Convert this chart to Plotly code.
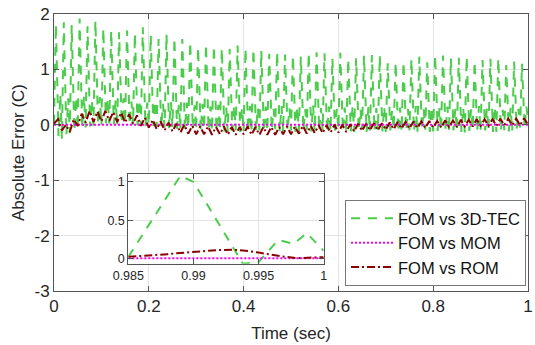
import numpy as np
import plotly.graph_objects as go

# ---------------- data ----------------
n_cycles = 60  # oscillation cycles over 0..1 s

# FOM vs 3D-TEC : per cycle a trough, big peak, trough, small bump
tec_low1 = [0.02, -0.25, -0.15, -0.08, -0.05, -0.02, 0.00, 0.02, 0.00, 0.03,
            0.00, -0.02, 0.00, -0.03, -0.05, -0.04, -0.08, -0.06, -0.10, -0.08,
            -0.12, -0.10, -0.13, -0.10, -0.12, -0.14, -0.10, -0.12, -0.08, -0.13,
            -0.10, -0.12, -0.09, -0.13, -0.10, -0.12, -0.08, -0.11, -0.13, -0.09,
            -0.12, -0.10, -0.13, -0.08, -0.12, -0.10, -0.14, -0.09, -0.12, -0.10,
            -0.13, -0.11, -0.14, -0.09, -0.12, -0.10, -0.13, -0.10, -0.12, -0.05,
            0.10]
tec_peak = [1.82, 1.85, 1.80, 1.92, 1.78, 1.88, 1.74, 1.70, 1.67, 1.70,
            1.65, 1.76, 1.62, 1.55, 1.64, 1.57, 1.55, 1.50, 1.40, 1.46,
            1.43, 1.38, 1.37, 1.43, 1.38, 1.37, 1.34, 1.28, 1.32, 1.27,
            1.25, 1.23, 1.30, 1.31, 1.29, 1.20, 1.30, 1.19, 1.20, 1.25,
            1.26, 1.25, 1.11, 1.13, 1.14, 1.19, 1.23, 1.13, 1.26, 1.25,
            1.20, 1.21, 1.23, 1.15, 1.17, 1.19, 1.20, 1.08, 1.14, 1.10]
tec_low2 = [-0.20, -0.18, -0.12, -0.06, -0.03, 0.00, 0.03, 0.01, 0.02, 0.00,
            -0.01, -0.03, -0.02, -0.05, -0.06, -0.07, -0.09, -0.08, -0.11, -0.10,
            -0.11, -0.12, -0.11, -0.13, -0.12, -0.11, -0.13, -0.10, -0.12, -0.11,
            -0.13, -0.10, -0.12, -0.11, -0.13, -0.10, -0.12, -0.12, -0.10, -0.13,
            -0.11, -0.12, -0.10, -0.13, -0.11, -0.12, -0.10, -0.13, -0.11, -0.12,
            -0.10, -0.13, -0.11, -0.12, -0.10, -0.13, -0.11, -0.12, -0.07, -0.05]
tec_bump = [0.55, 0.48, 0.50, 0.52, 0.45, 0.50, 0.47, 0.44, 0.48, 0.42,
            0.45, 0.40, 0.43, 0.38, 0.41, 0.36, 0.40, 0.35, 0.38, 0.33,
            0.36, 0.32, 0.35, 0.30, 0.34, 0.31, 0.33, 0.29, 0.34, 0.30,
            0.32, 0.28, 0.35, 0.30, 0.33, 0.29, 0.31, 0.34, 0.28, 0.32,
            0.30, 0.33, 0.27, 0.31, 0.29, 0.34, 0.28, 0.32, 0.30, 0.33,
            0.29, 0.31, 0.28, 0.34, 0.30, 0.32, 0.27, 0.31, 0.29, 0.33]

# FOM vs ROM : per cycle a trough and a peak
rom_low = [0.02, -0.10, -0.13, -0.02, 0.04, 0.05, 0.06, 0.07, 0.05, 0.04,
           0.02, -0.02, -0.05, -0.08, -0.10, -0.12, -0.14, -0.16, -0.17, -0.17,
           -0.18, -0.17, -0.18, -0.18, -0.17, -0.18, -0.18, -0.18, -0.18, -0.17,
           -0.17, -0.16, -0.16, -0.15, -0.15, -0.14, -0.14, -0.13, -0.12, -0.11,
           -0.10, -0.10, -0.09, -0.08, -0.07, -0.07, -0.06, -0.06, -0.05, -0.05,
           -0.04, -0.04, -0.03, -0.03, -0.02, -0.02, -0.02, -0.01, -0.01, -0.01,
           0.00]
rom_peak = [0.10, 0.00, 0.10, 0.20, 0.25, 0.24, 0.25, 0.23, 0.22, 0.19,
            0.17, 0.13, 0.09, 0.06, 0.04, 0.02, 0.00, -0.02, -0.03, -0.03,
            -0.04, -0.03, -0.04, -0.04, -0.03, -0.04, -0.04, -0.04, -0.04, -0.03,
            -0.03, -0.02, -0.02, -0.01, -0.01, 0.00, 0.00, 0.01, 0.02, 0.02,
            0.03, 0.03, 0.04, 0.05, 0.05, 0.06, 0.06, 0.07, 0.07, 0.08,
            0.08, 0.09, 0.09, 0.10, 0.10, 0.10, 0.11, 0.11, 0.11, 0.12]

# FOM vs MOM : essentially zero
mom_t = [0.0, 0.2, 0.4, 0.6, 0.8, 1.0]
mom_v = [0.0, 0.0, 0.0, 0.0, 0.0, 0.0]

# Inset (zoom on 0.985 .. 1 s)
ins_tec_t = [0.985, 0.989, 0.990, 0.9938, 0.995, 0.9965, 0.9977, 0.9987, 1.0]
ins_tec_v = [0.02, 1.08, 1.00, -0.07, -0.05, 0.24, 0.19, 0.33, 0.10]
ins_rom_t = [0.985, 0.986, 0.987, 0.988, 0.989, 0.990, 0.991, 0.992, 0.993,
             0.994, 0.995, 0.996, 0.997, 0.998, 0.999, 1.0]
ins_rom_v = [0.02, 0.03, 0.04, 0.055, 0.07, 0.085, 0.10, 0.11, 0.112,
             0.10, 0.075, 0.045, 0.02, 0.003, 0.005, 0.015]
ins_mom_t = [0.985, 1.0]
ins_mom_v = [0.0, 0.0]

main_xticks = [0, 0.2, 0.4, 0.6, 0.8, 1]
main_xlabels = ['0', '0.2', '0.4', '0.6', '0.8', '1']
main_yticks = [-3, -2, -1, 0, 1, 2]
main_ylabels = ['-3', '-2', '-1', '0', '1', '2']
ins_xticks = [0.985, 0.99, 0.995, 1.0]
ins_xlabels = ['0.985', '0.99', '0.995', '1']
ins_yticks = [0, 0.5, 1]
ins_ylabels = ['0', '0.5', '1']
names = ['FOM vs 3D-TEC', 'FOM vs MOM', 'FOM vs ROM']

# ---------------- assemble sample sequences ----------------
c = np.arange(n_cycles)
T = 1.0 / n_cycles
tec_t, tec_v = [], []
for i in c:
    tec_t += [i * T, (i + 0.24) * T, (i + 0.57) * T, (i + 0.8) * T]
    tec_v += [tec_low1[i], tec_peak[i], tec_low2[i], tec_bump[i]]
tec_t.append(1.0)
tec_v.append(tec_low1[-1])

rom_t, rom_v = [], []
for i in c:
    rom_t += [i * T, (i + 0.5) * T]
    rom_v += [rom_low[i], rom_peak[i]]
rom_t.append(1.0)
rom_v.append(rom_low[-1])

GREEN = '#4ccc4c'
MAG = '#ff00ff'
BROWN = '#8b0000'
g_line = dict(color=GREEN, width=2, dash='9px,8px')
m_line = dict(color=MAG, width=2, dash='2px,2px')
b_line = dict(color=BROWN, width=2, dash='8px,3px,2px,3px')

fig = go.Figure()
fig.add_trace(go.Scatter(x=tec_t, y=tec_v, mode='lines', name=names[0], line=g_line))
fig.add_trace(go.Scatter(x=mom_t, y=mom_v, mode='lines', name=names[1], line=m_line))
fig.add_trace(go.Scatter(x=rom_t, y=rom_v, mode='lines', name=names[2], line=b_line))

fig.add_trace(go.Scatter(x=ins_tec_t, y=ins_tec_v, mode='lines', line=g_line,
                         xaxis='x2', yaxis='y2', showlegend=False))
fig.add_trace(go.Scatter(x=ins_mom_t, y=ins_mom_v, mode='lines', line=m_line,
                         xaxis='x2', yaxis='y2', showlegend=False))
fig.add_trace(go.Scatter(x=ins_rom_t, y=ins_rom_v, mode='lines', line=b_line,
                         xaxis='x2', yaxis='y2', showlegend=False))

FONT = 'Liberation Sans, Arial, sans-serif'
AX = '#555555'
GRID = '#e4e4e4'
TXT = '#262626'

common = dict(showline=True, linecolor=AX, linewidth=1, mirror='ticks',
              ticks='inside', tickcolor=AX, ticklen=5, showgrid=True,
              gridcolor=GRID, zeroline=False, automargin=False,
              ticklabeloverflow='allow')

fig.update_layout(
    width=535, height=345,
    margin=dict(l=54, r=7, t=14, b=54),
    paper_bgcolor='white', plot_bgcolor='white',
    font=dict(family=FONT, size=17, color=TXT),
    xaxis=dict(domain=[0, 1], range=[0, 1], tickvals=main_xticks, ticktext=main_xlabels,
               tickfont=dict(size=17, color=TXT),
               title=dict(text='Time (sec)', font=dict(size=17, color=TXT), standoff=11),
               **common),
    yaxis=dict(domain=[0, 1], range=[-3, 2], tickvals=main_yticks, ticktext=main_ylabels,
               tickfont=dict(size=17, color=TXT),
               title=dict(text='Absolute Error (C)', font=dict(size=17, color=TXT), standoff=5),
               **common),
    xaxis2=dict(domain=[0.1568, 0.569], anchor='y2', range=[0.985, 1.0],
                tickvals=ins_xticks, ticktext=ins_xlabels,
                tickfont=dict(size=12.5, color=TXT), **common),
    yaxis2=dict(domain=[0.0986, 0.4213], anchor='x2', range=[-0.07, 1.1],
                tickvals=ins_yticks, ticktext=ins_ylabels,
                tickfont=dict(size=12.5, color=TXT), **common),
    legend=dict(x=0.9958, y=0.1733, xanchor='right', yanchor='middle',
                bgcolor='white', bordercolor='#777777', borderwidth=1,
                itemwidth=42,
                font=dict(size=16.5, color='#111111'), tracegroupgap=0),
    showlegend=True,
)

fig.write_html('out.html', post_script="document.body.style.margin='0';",
               config={'displayModeBar': False})
